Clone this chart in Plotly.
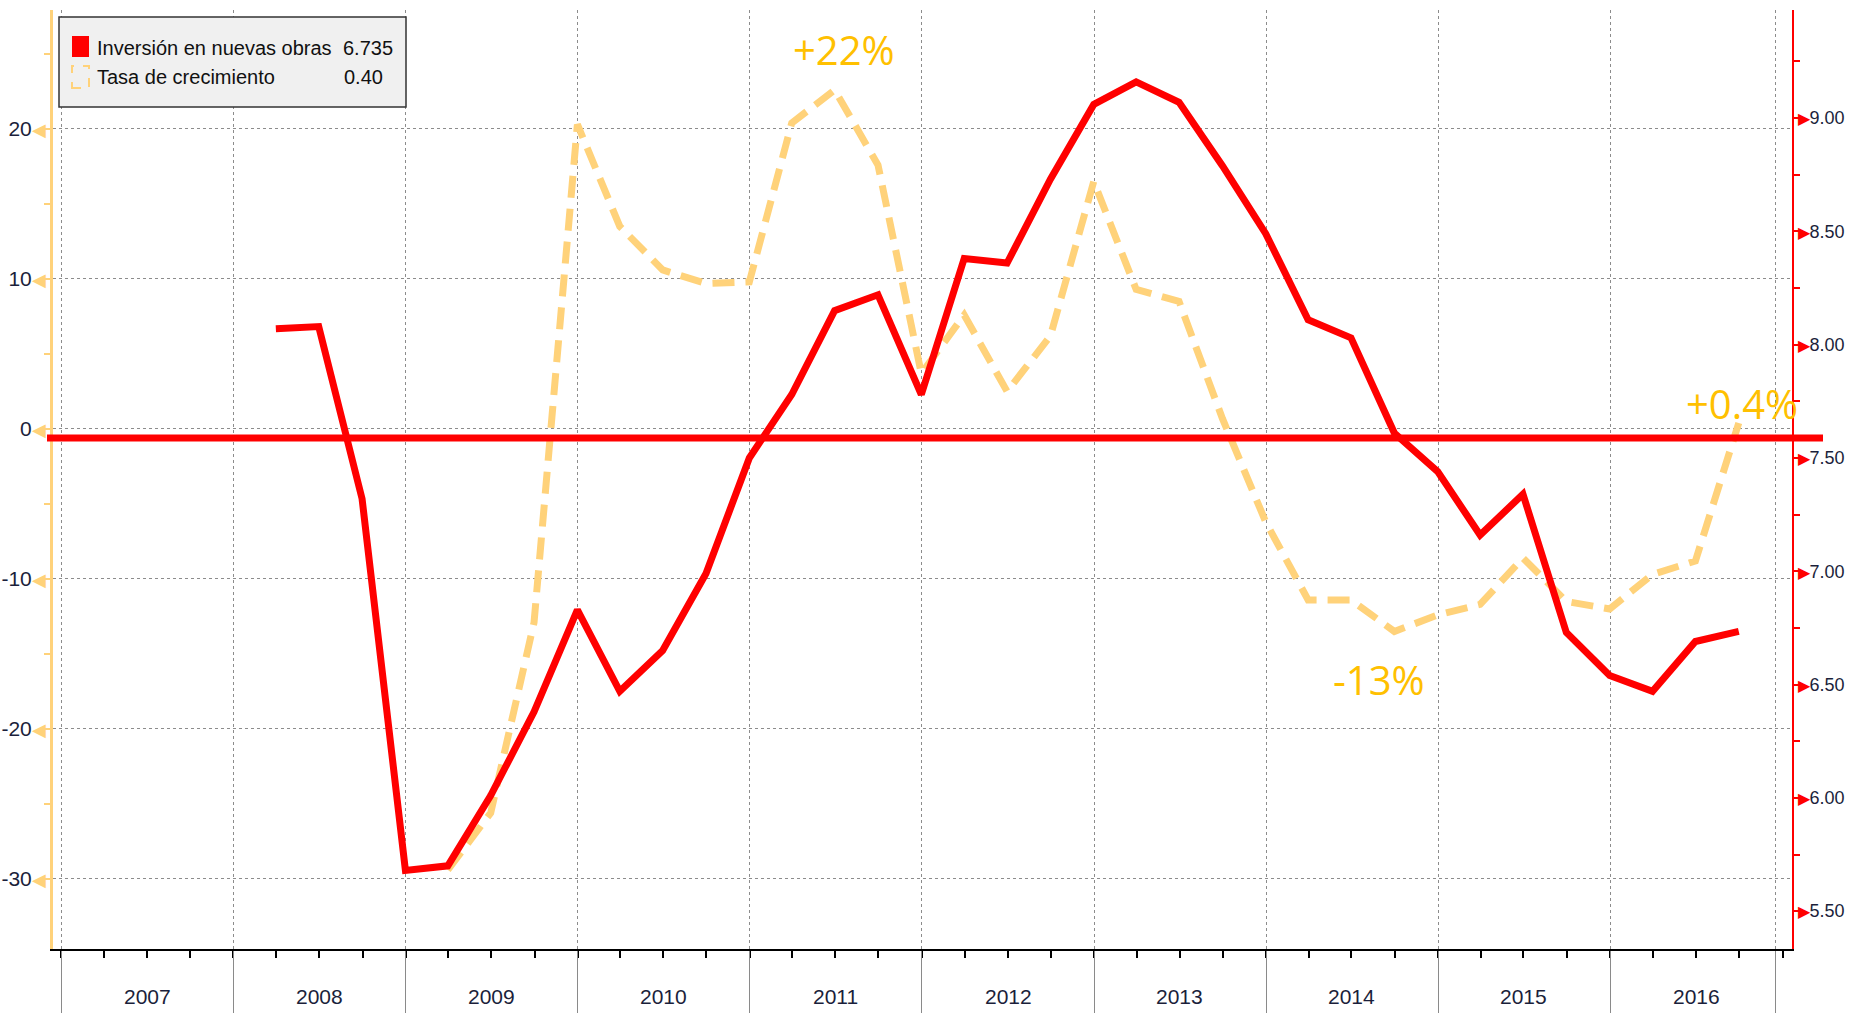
"""
Inversión en nuevas obras vs tasa de crecimiento interanual (Bloomberg style).
"""
import plotly.graph_objects as go

# quarterly dates (quarter ends)
quarters = [
    "2008-03-31", "2008-06-30", "2008-09-30", "2008-12-31",
    "2009-03-31", "2009-06-30", "2009-09-30", "2009-12-31",
    "2010-03-31", "2010-06-30", "2010-09-30", "2010-12-31",
    "2011-03-31", "2011-06-30", "2011-09-30", "2011-12-31",
    "2012-03-31", "2012-06-30", "2012-09-30", "2012-12-31",
    "2013-03-31", "2013-06-30", "2013-09-30", "2013-12-31",
    "2014-03-31", "2014-06-30", "2014-09-30", "2014-12-31",
    "2015-03-31", "2015-06-30", "2015-09-30", "2015-12-31",
    "2016-03-31", "2016-06-30", "2016-09-30",
]

# Inversión en nuevas obras (right axis)
inversion = [
    8.07, 8.08, 7.32, 5.68,
    5.70, 6.01, 6.38, 6.83,
    6.47, 6.65, 6.99, 7.50,
    7.78, 8.15, 8.22, 7.78,
    8.38, 8.36, 8.73, 9.06,
    9.16, 9.07, 8.79, 8.49,
    8.11, 8.03, 7.61, 7.44,
    7.16, 7.34, 6.73, 6.54,
    6.47, 6.69, 6.735,
]

# Tasa de crecimiento (left axis), starts 2009Q1
tasa_dates = quarters[4:]
tasa = [
    -29.4, -25.6, -12.9, 20.3,
    13.5, 10.6, 9.7, 9.8,
    20.4, 22.6, 17.6, 3.7,
    7.6, 2.5, 6.2, 16.5,
    9.3, 8.5, 0.7, -6.2,
    -11.4, -11.4, -13.5, -12.4,
    -11.7, -8.6, -11.5, -12.0,
    -9.7, -8.8, 0.4,
]

years = list(range(2007, 2017))
left_ticks = [20, 10, 0, -10, -20, -30]
right_ticks = [5.5, 6.0, 6.5, 7.0, 7.5, 8.0, 8.5, 9.0]

# callouts: (text, date, value on left axis)
callouts = [
    ("+22%", "2011-07-19", 25.3),
    ("-13%", "2014-08-29", -16.7),
    ("+0.4%", "2016-10-06", 1.7),
]

RED = "#FF0000"
YELLOW = "#FFD27A"
GOLD = "#FFC000"
GRID = "#8c8c8c"
TXT = "#1b1f3b"
SANS = "Liberation Sans, Arial, sans-serif"

W, H = 1849, 1013
# plot area in page pixels
L, R, T, B = 53, 1792, 10, 949


def px2x(px):
    return (px - L) / (R - L)


def px2y(py):
    return (B - py) / (B - T)


fig = go.Figure()

fig.add_trace(go.Scatter(
    x=tasa_dates, y=tasa, mode="lines", name="Tasa de crecimiento",
    line=dict(color=YELLOW, width=7, dash="22px,11px"),
    yaxis="y",
))
fig.add_trace(go.Scatter(
    x=quarters, y=inversion, mode="lines", name="Inversión en nuevas obras",
    line=dict(color=RED, width=7),
    yaxis="y2",
))

# thick red reference line near zero
fig.add_shape(type="line", xref="paper", yref="y", x0=px2x(47), x1=px2x(1823),
              y0=-0.6, y1=-0.6, line=dict(color=RED, width=7), layer="above")

# legend box
fig.add_shape(type="rect", xref="paper", yref="paper",
              x0=px2x(59), x1=px2x(406), y0=px2y(107), y1=px2y(17),
              fillcolor="#F0F0F0", line=dict(color="#333333", width=1.5), layer="above")
fig.add_shape(type="rect", xref="paper", yref="paper",
              x0=px2x(72), x1=px2x(89), y0=px2y(57), y1=px2y(36),
              fillcolor=RED, line=dict(width=0), layer="above")
fig.add_shape(type="rect", xref="paper", yref="paper",
              x0=px2x(72), x1=px2x(89), y0=px2y(88), y1=px2y(66),
              fillcolor="rgba(0,0,0,0)", line=dict(color=YELLOW, width=2, dash="dash"),
              layer="above")

legend_rows = [
    ("Inversión en nuevas obras", "6.735", 48, 395),
    ("Tasa de crecimiento", "0.40", 77, 385),
]
for label, val, ypx, xr in legend_rows:
    fig.add_annotation(text=label, xref="paper", yref="paper", x=px2x(95), y=px2y(ypx),
                       xanchor="left", yanchor="middle", showarrow=False,
                       font=dict(family=SANS, size=20, color="#111111"))
    fig.add_annotation(text=val, xref="paper", yref="paper", x=px2x(xr), y=px2y(ypx),
                       xanchor="right", yanchor="middle", showarrow=False,
                       font=dict(family=SANS, size=20, color="#111111"))

# year labels
for yr in years:
    fig.add_annotation(text=str(yr), xref="x", yref="paper", x=f"{yr}-07-02", y=px2y(996),
                       xanchor="center", yanchor="middle", showarrow=False,
                       font=dict(family=SANS, size=21, color=TXT))

# callouts
for text, d, v in callouts:
    fig.add_annotation(text=text, xref="x", yref="y", x=d, y=v, showarrow=False,
                       xanchor="center", yanchor="middle",
                       font=dict(family="Open Sans, Noto Sans, sans-serif", size=40, color=GOLD))

fig.update_layout(
    width=W, height=H,
    margin=dict(l=L, r=W - R, t=T, b=H - B, autoexpand=False),
    paper_bgcolor="white", plot_bgcolor="white",
    showlegend=False,
    xaxis=dict(
        type="date", range=["2006-12-14", "2017-01-21"],
        automargin=False,
        tickmode="array",
        tickvals=[f"{y}-01-01" for y in years] + ["2016-12-17"],
        showticklabels=False,
        ticks="outside", ticklen=H - B, tickcolor="#8a8a8a", tickwidth=1,
        showgrid=True, gridcolor=GRID, griddash="dot", gridwidth=1,
        showline=True, linecolor="black", linewidth=2,
        zeroline=False,
        minor=dict(ticks="outside", ticklen=7, tickcolor="black", tickwidth=1.5,
                   dtick="M3", tick0="2007-01-01", showgrid=False),
    ),
    yaxis=dict(
        range=[-34.67, 27.93],
        automargin=False,
        tickmode="array", tickvals=left_ticks,
        ticktext=[f"{v}<span style='color:{YELLOW};font-size:18px'>◀</span>" for v in left_ticks],
        ticks="",
        showgrid=True, gridcolor=GRID, griddash="dot", gridwidth=1,
        showline=True, linecolor=YELLOW, linewidth=3,
        zeroline=False,
        minor=dict(ticks="outside", ticklen=6, tickcolor=YELLOW, tickwidth=1.5,
                   dtick=5, tick0=0, showgrid=False),
        tickfont=dict(family=SANS, size=21, color=TXT),
    ),
    yaxis2=dict(
        overlaying="y", side="right", anchor="x",
        range=[5.333, 9.477],
        automargin=False,
        tickmode="array", tickvals=right_ticks,
        ticktext=[f"<span style='color:{RED};font-size:16px'>▶</span>{v:.2f}" for v in right_ticks],
        ticks="",
        showgrid=False, zeroline=False,
        showline=True, linecolor=RED, linewidth=2,
        minor=dict(ticks="outside", ticklen=6, tickcolor=RED, tickwidth=1.5,
                   dtick=0.25, tick0=0, showgrid=False),
        tickfont=dict(family=SANS, size=18, color=TXT),
    ),
)

fig.write_html("out.html", config={"displayModeBar": False},
               post_script="document.body.style.margin='0';document.body.style.overflow='hidden';")
